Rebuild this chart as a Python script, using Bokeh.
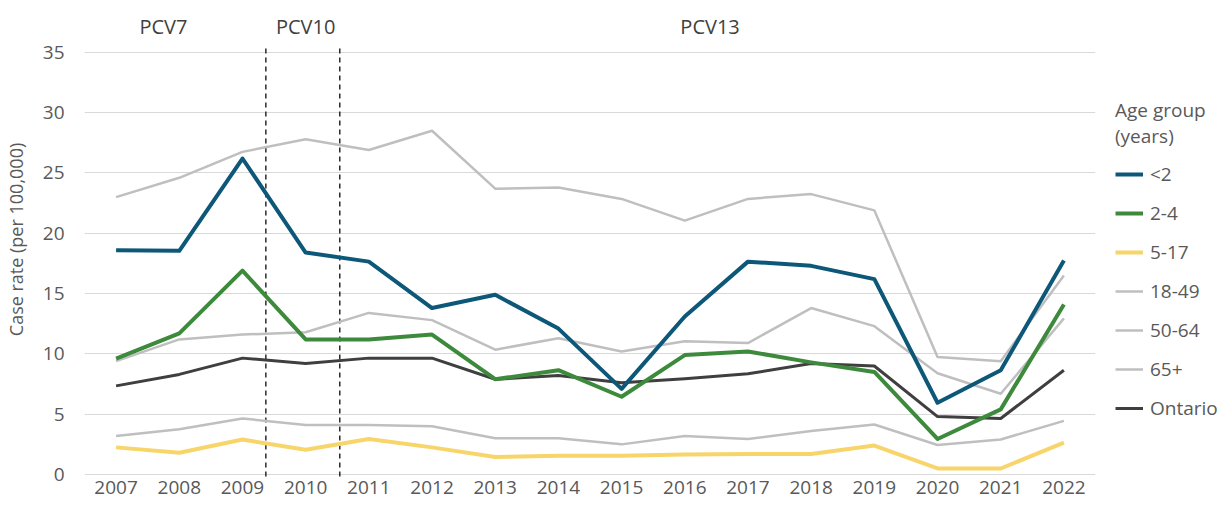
from bokeh.plotting import figure
from bokeh.models import Legend, LegendItem, FixedTicker, Range1d
from bokeh.core.properties import value
from bokeh.embed import file_html
from bokeh.resources import INLINE

years = list(range(2007, 2023))
year_labels = [str(y) for y in years]

under2 = [18.6, 18.55, 26.2, 18.4, 17.65, 13.8, 14.9, 12.1, 7.1, 13.1, 17.65, 17.3, 16.2, 5.95, 8.65, 17.75]
age2_4 = [9.6, 11.7, 16.9, 11.2, 11.2, 11.6, 7.9, 8.65, 6.45, 9.9, 10.2, 9.3, 8.5, 2.95, 5.4, 14.1]
age5_17 = [2.25, 1.8, 2.9, 2.05, 2.95, 2.25, 1.45, 1.55, 1.55, 1.65, 1.7, 1.7, 2.4, 0.5, 0.5, 2.65]
age18_49 = [3.2, 3.75, 4.65, 4.1, 4.1, 4.0, 3.0, 3.0, 2.5, 3.2, 2.95, 3.6, 4.15, 2.45, 2.9, 4.45]
age50_64 = [9.4, 11.2, 11.6, 11.8, 13.4, 12.8, 10.35, 11.3, 10.2, 11.05, 10.9, 13.8, 12.3, 8.4, 6.7, 12.95]
age65 = [23.0, 24.6, 26.75, 27.8, 26.9, 28.5, 23.7, 23.8, 22.85, 21.05, 22.85, 23.25, 21.9, 9.75, 9.4, 16.5]
ontario = [7.35, 8.3, 9.65, 9.2, 9.65, 9.65, 7.9, 8.2, 7.6, 7.95, 8.35, 9.2, 9.0, 4.8, 4.65, 8.65]

series_names = ["<2", "2-4", "5-17", "18-49", "50-64", "65+", "Ontario"]
series_values = [under2, age2_4, age5_17, age18_49, age50_64, age65, ontario]
series_colors = ["#0d5878", "#3d8a3d", "#f8d56a", "#bfbfbf", "#bfbfbf", "#bfbfbf", "#3f3f3f"]
series_widths = [4, 4, 4, 2.5, 2.5, 2.5, 3]

vaccine_labels = ["PCV7", "PCV10", "PCV13"]
vaccine_label_x = [2007.75, 2010.0, 2016.4]
vaccine_switch_x = [2009.37, 2010.54]

y_ticks = [0, 5, 10, 15, 20, 25, 30, 35]

FONT = "Open Sans"
TXT = "#595959"

p = figure(frame_width=1011, frame_height=478, output_backend="svg", toolbar_location=None,
           x_range=Range1d(2006.5, 2022.5), y_range=Range1d(-0.33, 39.3),
           min_border_left=83, min_border_right=0, min_border_top=0, min_border_bottom=24)
p.outline_line_color = None
p.background_fill_color = "white"
p.border_fill_color = "white"

# grid
p.xgrid.grid_line_color = None
p.ygrid.grid_line_color = "#d9d9d9"
p.ygrid.grid_line_width = 1

# axes
p.yaxis.ticker = FixedTicker(ticks=y_ticks)
p.xaxis.ticker = FixedTicker(ticks=years)
p.xaxis.major_label_overrides = {y: l for y, l in zip(years, year_labels)}
for ax in (p.xaxis[0], p.yaxis[0]):
    ax.axis_line_color = None
    ax.major_tick_line_color = None
    ax.minor_tick_line_color = None
    ax.major_tick_out = 0
    ax.major_tick_in = 0
    ax.minor_tick_out = 0
    ax.major_label_text_font = FONT
    ax.major_label_text_font_size = "19px"
    ax.major_label_text_color = TXT
p.xaxis.major_label_standoff = 2
p.yaxis.major_label_standoff = 20
p.yaxis.axis_label = "Case rate (per 100,000)"
p.yaxis.axis_label_text_font = FONT
p.yaxis.axis_label_text_font_size = "18px"
p.yaxis.axis_label_text_font_style = "normal"
p.yaxis.axis_label_text_color = TXT
p.yaxis.axis_label_standoff = 12

# vaccine change dashed lines
p.segment(x0=vaccine_switch_x, x1=vaccine_switch_x, y0=[-0.9] * 2, y1=[35.4] * 2,
          line_color="#2b2b2b", line_width=1.5, line_dash="5 4")

# vaccine labels
p.text(x=vaccine_label_x, y=[37.15] * 3, text=vaccine_labels,
       text_font=value(FONT), text_font_size="20px", text_color="#404040",
       text_align="center", text_baseline="middle")

renderers = []
for name, vals, col, w in zip(series_names, series_values, series_colors, series_widths):
    r = p.line(years, vals, line_color=col, line_width=w, line_join="round")
    renderers.append((name, r))

items = [LegendItem(label=n, renderers=[r]) for n, r in renderers]
legend = Legend(items=items, location=(20, 57))
legend.title = "Age group\n(years)"
legend.title_text_font = FONT
legend.title_text_font_size = "19px"
legend.title_text_font_style = "normal"
legend.title_text_color = TXT
legend.title_text_line_height = 1.55
legend.title_standoff = 12
legend.label_text_font = FONT
legend.label_text_font_size = "19px"
legend.label_text_color = TXT
legend.glyph_width = 28
legend.glyph_height = 20
legend.label_height = 20
legend.label_standoff = 7
legend.spacing = 13
legend.padding = 0
legend.margin = 0
legend.border_line_color = None
legend.background_fill_alpha = 0
p.add_layout(legend, "right")

line_rs = [r for _, r in renderers]
order = [3, 4, 5, 6, 2, 1, 0]
others = [r for r in p.renderers if r not in line_rs]
p.renderers = others[:1] + [line_rs[i] for i in order] + others[1:]

open("out.html", "w").write(file_html(p, INLINE))
